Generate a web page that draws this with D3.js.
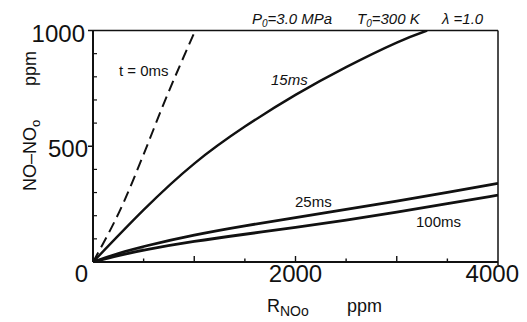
<!DOCTYPE html>
<html lang="en">
<head>
  <meta charset="UTF-8">
  <title>NO-NO0 vs R_NO0</title>
  <script src="https://d3js.org/d3.v7.min.js"></script>
  <style>
    html, body {
      margin: 0;
      padding: 0;
      background: #fff;
    }
    svg {
      display: block;
      font-family: 'Liberation Sans', Arial, Helvetica, sans-serif;
    }
  </style>
</head>
<body>
<svg width="527" height="322"></svg>
<script>
  // values (x = R_NO0 ppm, y = NO-NO0 ppm)
  const t0X = [0, 300, 500, 700, 1010];
  const t0Y = [0, 255, 465, 685, 1000];

  const t15X = [0, 500, 1000, 1500, 2000, 2500, 3000, 3300];
  const t15Y = [0, 225, 425, 585, 722, 842, 948, 1000];

  const t25X = [0, 250, 500, 1000, 1500, 2000, 2500, 3000, 3500, 4000];
  const t25Y = [0, 38, 68, 118, 157, 192, 227, 263, 301, 340];

  const t100X = [0, 250, 500, 1000, 1500, 2000, 2500, 3000, 3500, 4000];
  const t100Y = [0, 28, 52, 90, 120, 149, 180, 215, 252, 289];

  const xTickLabels = [0, 2000, 4000];
  const yTickLabels = [500, 1000];

  const svg = d3.select("svg");
  const x = d3.scaleLinear().domain([0, 4000]).range([93, 498]);
  const y = d3.scaleLinear().domain([0, 1000]).range([262, 30.5]);

  const zip = (xs, ys) => xs.map((v, i) => ({ x: v, y: ys[i] }));

  svg.append("clipPath").attr("id", "plot")
    .append("rect").attr("x", x(0)).attr("y", y(1000))
    .attr("width", x(4000) - x(0)).attr("height", y(0) - y(1000));

  const plot = svg.append("g").attr("clip-path", "url(#plot)");

  // grey smudge near the origin between the two lower curves
  const lo = zip(t100X, t100Y).filter(d => d.x <= 500);
  const hi = zip(t25X, t25Y).filter(d => d.x <= 500);
  plot.append("path")
    .datum(lo.map((d, i) => ({ x: d.x, y0: d.y, y1: hi[i].y })))
    .attr("fill", "#9a9a9a")
    .attr("d", d3.area().x(d => x(d.x)).y0(d => y(d.y0)).y1(d => y(d.y1)));

  const line = d3.line().x(d => x(d.x)).y(d => y(d.y)).curve(d3.curveMonotoneX);
  const natural = d3.line().x(d => x(d.x)).y(d => y(d.y)).curve(d3.curveNatural);
  const smooth = d3.line().x(d => x(d.x)).y(d => y(d.y)).curve(d3.curveBasis);

  plot.append("path").datum(zip(t0X, t0Y))
    .attr("fill", "none").attr("stroke", "#111").attr("stroke-width", 2)
    .attr("stroke-dasharray", "11,6").attr("d", line);

  plot.append("path").datum(zip(t15X, t15Y))
    .attr("fill", "none").attr("stroke", "#111").attr("stroke-width", 2.4).attr("d", natural);

  plot.append("path").datum(zip(t25X, t25Y))
    .attr("fill", "none").attr("stroke", "#111").attr("stroke-width", 2.8).attr("d", smooth);

  plot.append("path").datum(zip(t100X, t100Y))
    .attr("fill", "none").attr("stroke", "#111").attr("stroke-width", 2.8).attr("d", smooth);

  // frame
  const frame = svg.append("g").attr("stroke", "#111").attr("fill", "none");
  frame.append("line").attr("x1", x(0)).attr("x2", x(4000)).attr("y1", y(0)).attr("y2", y(0)).attr("stroke-width", 2);
  frame.append("line").attr("x1", x(0)).attr("x2", x(0)).attr("y1", y(0)).attr("y2", y(1000)).attr("stroke-width", 2);
  frame.append("line").attr("x1", x(0)).attr("x2", x(4000)).attr("y1", y(1000)).attr("y2", y(1000)).attr("stroke-width", 1.3);
  frame.append("line").attr("x1", x(4000)).attr("x2", x(4000)).attr("y1", y(1000)).attr("y2", y(0) + 3).attr("stroke-width", 1.5);

  // ticks: x inward every 500, longer at 1000s
  const xt = d3.range(500, 4000, 500);
  frame.selectAll("line.xt").data(xt).join("line")
    .attr("x1", d => x(d)).attr("x2", d => x(d))
    .attr("y1", y(0)).attr("y2", d => y(0) - (d % 1000 === 0 ? 6 : 3.5))
    .attr("stroke-width", 1.4);

  // y minor ticks inward every 100, major ticks outward
  const yt = d3.range(100, 1000, 100).filter(d => d !== 500);
  frame.selectAll("line.yt").data(yt).join("line")
    .attr("x1", x(0)).attr("x2", x(0) + 4)
    .attr("y1", d => y(d)).attr("y2", d => y(d))
    .attr("stroke-width", 1.2);
  frame.selectAll("line.ym").data(yTickLabels).join("line")
    .attr("x1", x(0) - 5).attr("x2", x(0))
    .attr("y1", d => y(d)).attr("y2", d => y(d))
    .attr("stroke-width", 1.5);

  // tick labels
  svg.selectAll("text.xl").data(xTickLabels).join("text")
    .attr("x", (d, i) => i === 0 ? x(d) - 5 : i === xTickLabels.length - 1 ? 519 : x(d))
    .attr("y", 282)
    .attr("text-anchor", (d, i) => i === 0 || i === xTickLabels.length - 1 ? "end" : "middle")
    .attr("font-size", 24).attr("fill", "#111")
    .text(d => d);

  svg.selectAll("text.yl").data(yTickLabels).join("text")
    .attr("x", (d, i) => i === 1 ? 85 : 88)
    .attr("y", d => y(d) + 11)
    .attr("text-anchor", "end")
    .attr("font-size", 24).attr("fill", "#111")
    .text(d => d);

  // axis titles
  const xt1 = svg.append("text").attr("x", 267).attr("y", 312).attr("font-size", 18).attr("fill", "#111");
  xt1.append("tspan").text("R");
  xt1.append("tspan").attr("font-size", 14).attr("dy", 4).text("NOo");
  svg.append("text").attr("x", 347).attr("y", 312).attr("font-size", 18).attr("fill", "#111").text("ppm");

  const yt1 = svg.append("text").attr("transform", "translate(36,191) rotate(-90)")
    .attr("font-size", 18).attr("fill", "#111");
  yt1.append("tspan").text("NO\u2013NO");
  yt1.append("tspan").attr("font-size", 13).attr("dy", 4).text("o");
  svg.append("text").attr("transform", "translate(36,86) rotate(-90)")
    .attr("font-size", 18).attr("fill", "#111").text("ppm");

  // conditions
  const cond = svg.append("g").attr("font-size", 15).attr("font-style", "italic").attr("fill", "#111");
  const p = cond.append("text").attr("x", 252).attr("y", 24);
  p.append("tspan").text("P");
  p.append("tspan").attr("font-size", 10).attr("dy", 3).text("0");
  p.append("tspan").attr("dy", -3).text("=3.0 MPa");
  const t = cond.append("text").attr("x", 357).attr("y", 24);
  t.append("tspan").text("T");
  t.append("tspan").attr("font-size", 10).attr("dy", 3).text("0");
  t.append("tspan").attr("dy", -3).text("=300 K");
  cond.append("text").attr("x", 442).attr("y", 24).text("\u03bb =1.0");

  // curve labels
  const lab = svg.append("g").attr("font-size", 15).attr("fill", "#111");
  lab.append("text").attr("x", 119).attr("y", 76).text("t = 0ms");
  lab.append("text").attr("x", 271).attr("y", 85).attr("font-style", "italic").text("15ms");
  lab.append("text").attr("x", 295).attr("y", 207).text("25ms");
  lab.append("text").attr("x", 416).attr("y", 227).text("100ms");
</script>
</body>
</html>
